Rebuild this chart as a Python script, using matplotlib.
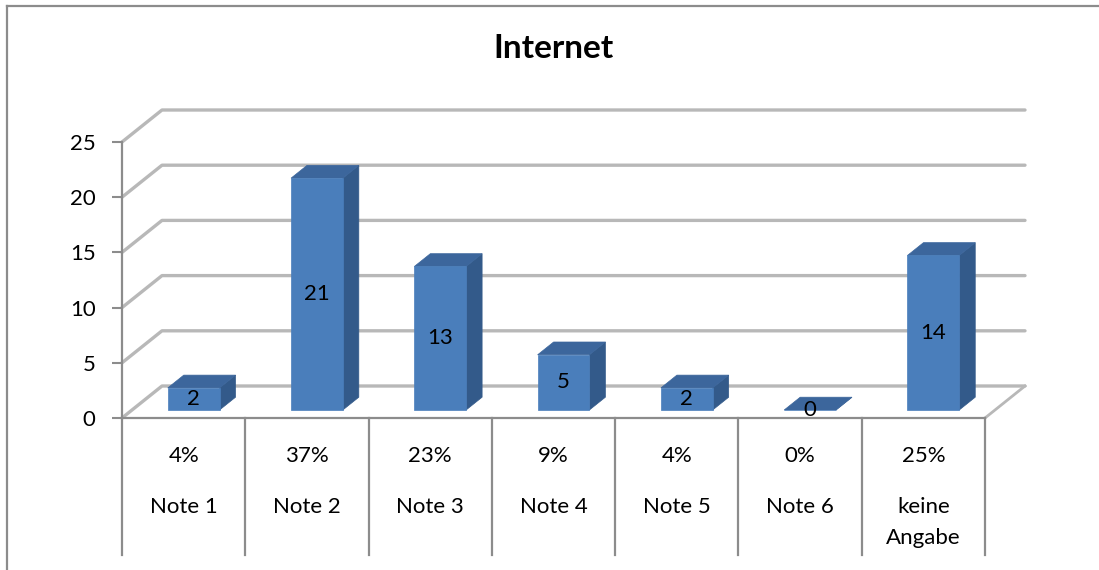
import matplotlib
matplotlib.use('Agg')
import matplotlib.pyplot as plt
from matplotlib.patches import Polygon
from matplotlib.lines import Line2D

# ---- data ----
title = "Internet"
categories = ["Note 1", "Note 2", "Note 3", "Note 4", "Note 5", "Note 6", "keine\nAngabe"]
values = [2, 21, 13, 5, 2, 0, 14]
percent_labels = ["4%", "37%", "23%", "9%", "4%", "0%", "25%"]
y_ticks = [0, 5, 10, 15, 20, 25]

# ---- style ----
plt.rcParams['font.family'] = ['Lato', 'DejaVu Sans']
W, H = 1099, 570
GRID = '#b8b8b8'
AXC = '#8c8c8c'
FRONT = '#4a7ebb'
SIDE = '#335a8a'
TOP = '#3c669c'
FS = 16

fig = plt.figure(figsize=(W / 100, H / 100), dpi=100)
fig.patch.set_facecolor('white')

# outer chart border (cropped on right/bottom)
fig.add_artist(Line2D([7 / W, 1.0], [1 - 6 / H, 1 - 6 / H], transform=fig.transFigure,
                      color=AXC, lw=1.6))
fig.add_artist(Line2D([7 / W, 7 / W], [1 - 6 / H, 0.0], transform=fig.transFigure,
                      color=AXC, lw=1.6))

n = len(categories)
ax = fig.add_axes([122 / W, (H - 418) / H, 863 / W, 276 / H])
ax.set_xlim(-0.5, n - 0.5)
ax.set_ylim(0, 25)
ax.set_facecolor('none')

px_x = 863 / n      # pixels per category
px_y = 276 / 25     # pixels per value unit
DX = 40 / px_x      # depth offset (categories)
DY = 32 / px_y      # depth offset (value units)

# walls / gridlines
for v in y_ticks:
    ax.plot([-0.5, -0.5 + DX, n - 0.5 + DX], [v, v + DY, v + DY], color=GRID, lw=2.4,
            clip_on=False, zorder=1, solid_capstyle='round', solid_joinstyle='round')
ax.plot([n - 0.5, n - 0.5 + DX], [0, DY], color=GRID, lw=2.0, clip_on=False, zorder=1)

# axes styling
for s in ['top', 'right']:
    ax.spines[s].set_visible(False)
for s in ['left', 'bottom']:
    ax.spines[s].set_color(AXC)
    ax.spines[s].set_linewidth(1.6)
    ax.spines[s].set_zorder(2)
ax.set_xticks([])
ax.set_yticks(y_ticks)
ax.set_yticklabels([str(t) for t in y_ticks])
ax.tick_params(axis='y', length=7, width=1.5, color=AXC, pad=12, labelsize=FS)

# bars
BW = 0.42
T0, T1 = 0.25, 0.65
ddx = (T1 - T0) * DX
ddy = (T1 - T0) * DY
for i, v in enumerate(values):
    x0 = i - BW / 2 + T0 * DX
    x1 = x0 + BW
    y0 = T0 * DY
    y1 = y0 + v
    ax.add_patch(Polygon([(x1, y0), (x1 + ddx, y0 + ddy), (x1 + ddx, y1 + ddy), (x1, y1)],
                         closed=True, facecolor=SIDE, edgecolor=SIDE, lw=0.5, zorder=3, clip_on=False))
    ax.add_patch(Polygon([(x0, y1), (x1, y1), (x1 + ddx, y1 + ddy), (x0 + ddx, y1 + ddy)],
                         closed=True, facecolor=TOP, edgecolor=TOP, lw=0.5, zorder=3, clip_on=False))
    ax.add_patch(Polygon([(x0, y0), (x1, y0), (x1, y1), (x0, y1)],
                         closed=True, facecolor=FRONT, edgecolor=FRONT, lw=0.5, zorder=4, clip_on=False))
    ax.text((x0 + x1) / 2, y0 + v / 2, str(v), ha='center', va='center', fontsize=FS,
            color='black', zorder=6, clip_on=False)

# data table below
TB = (418 - 555) / px_y
for i in range(n + 1):
    ax.plot([i - 0.5, i - 0.5], [0, TB], color=AXC, lw=1.6, clip_on=False, zorder=2)

y_pct = (418 - 462) / px_y
y_name = (418 - 513) / px_y
line_step = 31 / px_y
for i in range(n):
    ax.text(i, y_pct, percent_labels[i], ha='center', va='baseline', fontsize=FS, clip_on=False)
    for k, line in enumerate(categories[i].split('\n')):
        ax.text(i, y_name - k * line_step, line, ha='center', va='baseline', fontsize=FS,
                clip_on=False)

# title
fig.text(553.5 / W, (H - 58) / H, title, ha='center', va='baseline', fontsize=24,
         fontweight='bold')

fig.savefig('out.png', dpi=100, facecolor='white')
